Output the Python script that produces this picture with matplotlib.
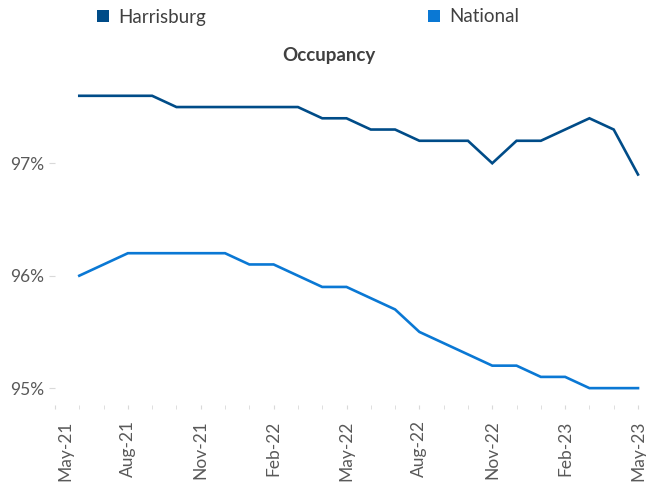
import matplotlib
matplotlib.use("Agg")
import matplotlib.pyplot as plt
from matplotlib.patches import Patch
from matplotlib.transforms import ScaledTranslation

# ---- data ----
months = ["Jun-21", "Jul-21", "Aug-21", "Sep-21", "Oct-21", "Nov-21", "Dec-21",
          "Jan-22", "Feb-22", "Mar-22", "Apr-22", "May-22", "Jun-22", "Jul-22",
          "Aug-22", "Sep-22", "Oct-22", "Nov-22", "Dec-22", "Jan-23", "Feb-23",
          "Mar-23", "Apr-23", "May-23"]
harrisburg = [97.6, 97.6, 97.6, 97.6, 97.5, 97.5, 97.5, 97.5, 97.5, 97.5, 97.4, 97.4,
              97.3, 97.3, 97.2, 97.2, 97.2, 97.0, 97.2, 97.2, 97.3, 97.4, 97.3, 96.9]
national = [96.0, 96.1, 96.2, 96.2, 96.2, 96.2, 96.2, 96.1, 96.1, 96.0, 95.9, 95.9,
            95.8, 95.7, 95.5, 95.4, 95.3, 95.2, 95.2, 95.1, 95.1, 95.0, 95.0, 95.0]
tick_labels = ["May-21", "Aug-21", "Nov-21", "Feb-22", "May-22", "Aug-22",
               "Nov-22", "Feb-23", "May-23"]
y_ticks = [95, 96, 97]
series_names = ["Harrisburg", "National"]
colors = ["#004C88", "#0A78D4"]

plt.rcParams['font.family'] = ['Lato', 'DejaVu Sans']

W, H = 646, 482
fig = plt.figure(figsize=(W / 100, H / 100), dpi=100)
left, right = 55 / W, 638 / W
bottom, top = 1 - 405 / H, 1 - 75 / H
ax = fig.add_axes([left, bottom, right - left, top - bottom])

# month index: May-21 = 0, data start at Jun-21 = 1
x = list(range(1, len(months) + 1))
ax.plot(x, harrisburg, color=colors[0], lw=1.9, solid_joinstyle='miter', clip_on=False)
ax.plot(x, national, color=colors[1], lw=1.9, solid_joinstyle='miter', clip_on=False)

ax.set_xlim(0, 24)
ax.set_ylim(94.85, 97.785)

for s in ax.spines.values():
    s.set_visible(False)

major_pos = list(range(0, 25, 3))
ax.set_xticks(major_pos)
ax.set_xticklabels(tick_labels, rotation=90, fontsize=12.5, color="#595959")
ax.set_xticks(range(0, 25), minor=True)
ax.tick_params(axis='x', which='both', length=3, color="#D9D9D9", pad=8, direction='out')

ax.set_yticks(y_ticks)
ax.set_yticklabels([f"{v}%" for v in y_ticks], fontsize=12.5, color="#595959")
ax.tick_params(axis='y', length=4, color="#D9D9D9", pad=4)

# first label shifted right like the reference
lab0 = ax.get_xticklabels()[0]
lab0.set_transform(lab0.get_transform() + ScaledTranslation(10 / 100, 0, fig.dpi_scale_trans))

fig.text(329 / W, 1 - 56 / H, "Occupancy", ha='center', va='center',
         fontsize=13.5, fontweight='bold', color="#404040")

handles = [Patch(facecolor=c, edgecolor='none') for c in colors]
leg = fig.legend(handles, series_names, loc='center left',
                 bbox_to_anchor=(97 / W, 1 - 17 / H), ncol=2, frameon=False,
                 fontsize=13.5, handlelength=0.65, handleheight=0.65,
                 handletextpad=0.5, columnspacing=11.8, borderpad=0,
                 borderaxespad=0)
for t in leg.get_texts():
    t.set_color("#404040")

fig.savefig("out.png", dpi=100)
